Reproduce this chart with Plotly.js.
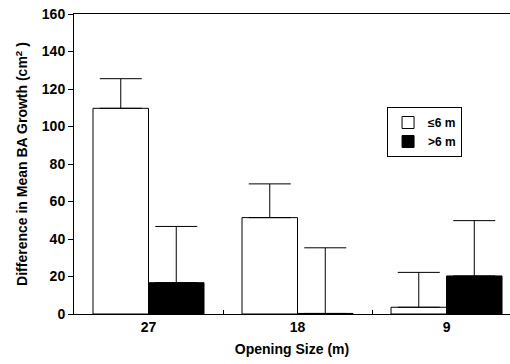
<!DOCTYPE html>
<html>
<head>
<meta charset="utf-8">
<script src="https://cdn.plot.ly/plotly-3.0.1.min.js"></script>
<style>html,body{margin:0;padding:0;background:#fff;}#chart{width:510px;height:364px;}</style>
</head>
<body>
<div id="chart"></div>
<script>
const categories = ['27', '18', '9'];
const smallValues = [109.7, 51.4, 3.6];
const smallErrors = [15.8, 18.0, 18.6];
const largeValues = [16.7, 0.3, 20.3];
const largeErrors = [30.0, 35.0, 29.5];
const seriesNames = ['\u22646 m', '>6 m'];

const FONT = 'Liberation Sans, Arial, sans-serif';

const traces = [
  {
    type: 'bar', name: seriesNames[0], x: categories, y: smallValues,
    marker: {color: '#ffffff', line: {color: '#000000', width: 1}},
    error_y: {type: 'data', array: smallErrors, arrayminus: smallErrors.map(() => 0), symmetric: false,
              color: '#000000', thickness: 1, width: 21}
  },
  {
    type: 'bar', name: seriesNames[1], x: categories, y: largeValues,
    marker: {color: '#000000', line: {color: '#000000', width: 1}},
    error_y: {type: 'data', array: largeErrors, arrayminus: largeErrors.map(() => 0), symmetric: false,
              color: '#000000', thickness: 1, width: 21}
  }
];

const layout = {
  width: 510, height: 364,
  margin: {l: 74, r: 0, t: 14, b: 50},
  paper_bgcolor: '#ffffff', plot_bgcolor: '#ffffff',
  barmode: 'group', bargap: 0.255, bargroupgap: 0,
  font: {family: FONT, color: '#000000'},
  showlegend: true,
  legend: {
    x: 0.718, y: 0.69, xanchor: 'left', yanchor: 'top',
    bordercolor: '#000000', borderwidth: 1, bgcolor: '#ffffff',
    font: {family: FONT, size: 12, color: '#000000', weight: 'bold'},
    tracegroupgap: 0, itemwidth: 30
  },
  xaxis: {
    type: 'category', range: [-0.5, 2.426],
    showline: true, linecolor: '#000000', linewidth: 1, mirror: true,
    ticks: 'inside', tickson: 'boundaries', ticklen: 4, tickcolor: '#000000',
    showgrid: false, zeroline: false,
    tickfont: {family: FONT, size: 14, weight: 'bold'},
    title: {text: 'Opening Size (m)', font: {family: FONT, size: 14, weight: 'bold'}, standoff: 10}
  },
  yaxis: {
    range: [0, 160], dtick: 20, tick0: 0,
    showline: true, linecolor: '#000000', linewidth: 1, mirror: false,
    ticks: 'outside', ticklen: 5, tickcolor: '#000000',
    showgrid: false, zeroline: false,
    tickfont: {family: FONT, size: 14, weight: 'bold'},
    title: {text: 'Difference in Mean BA Growth (cm<sup>2</sup> )', font: {family: FONT, size: 14, weight: 'bold'}, standoff: 10}
  }
};

Plotly.newPlot('chart', traces, layout, {displayModeBar: false, staticPlot: true});
</script>
</body>
</html>
